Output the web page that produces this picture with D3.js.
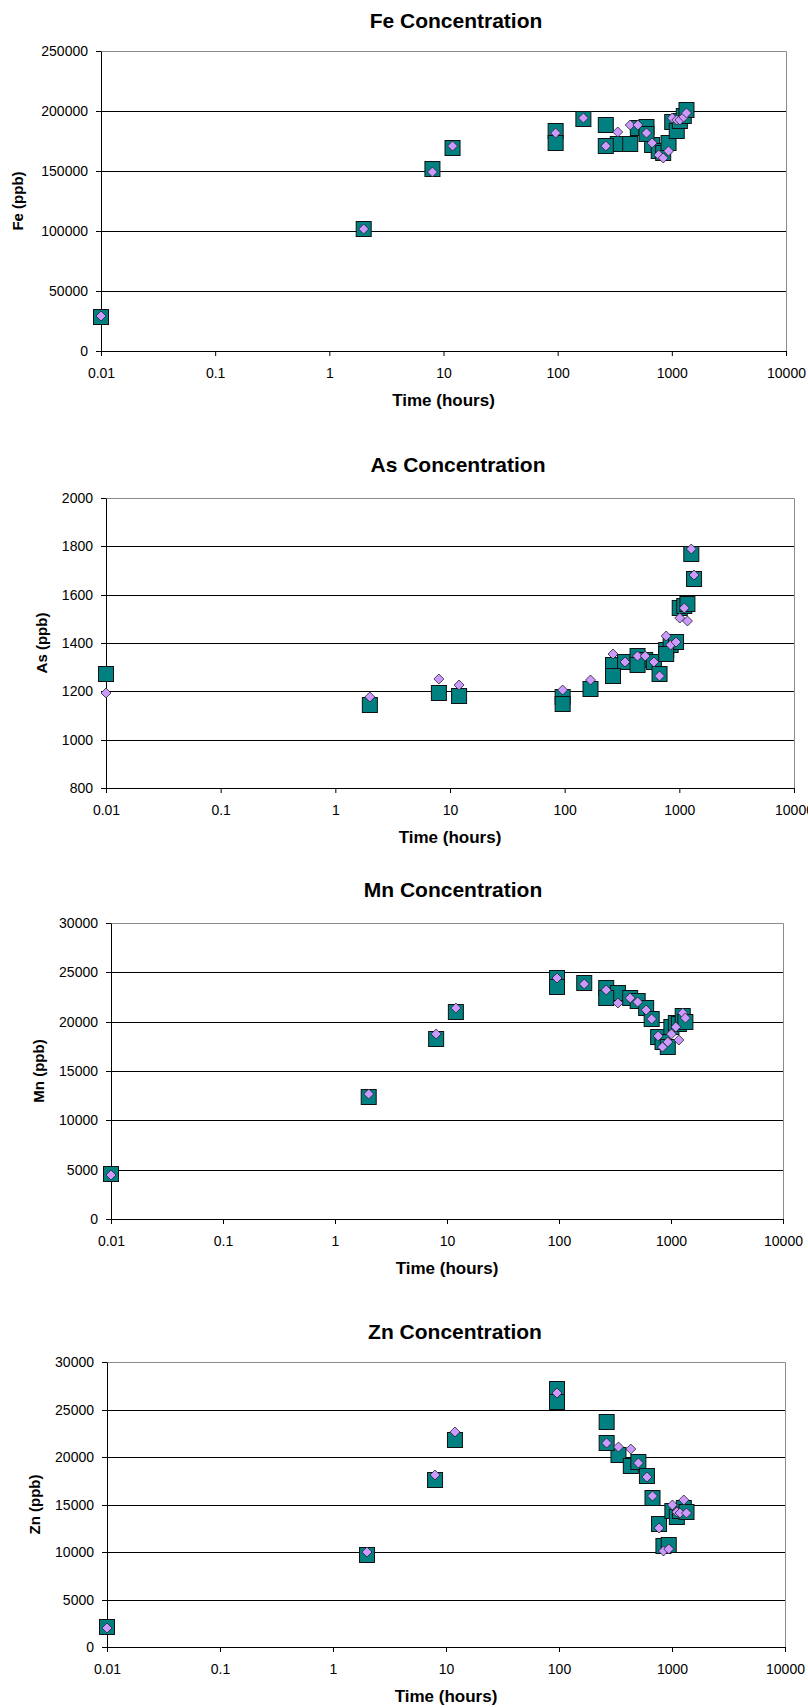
<!DOCTYPE html>
<html><head><meta charset="utf-8">
<script src="https://cdn.jsdelivr.net/npm/d3@7"></script>
<style>body{margin:0;background:#fff} svg{display:block}</style>
</head><body>
<svg id="c" width="808" height="1708"></svg>
<script>
// ---------- DATA ----------
const times = [0.01, 2, 8, 12, 96, 168, 264, 336, 432, 504, 600, 672, 768, 840, 936, 1008, 1104, 1176, 1272, 1344];
const xTicks = [0.01, 0.1, 1, 10, 100, 1000, 10000];
const xTickLabels = ["0.01", "0.1", "1", "10", "100", "1000", "10000"];

const feTicks = [0, 50000, 100000, 150000, 200000, 250000];
const feSquares1 = [28000, 101500, 151700, 168900, 183600, 193100, 188100, 172200, 172200, 185600, 187000, 171500, 167000, 165000, 173300, 190500, 183200, 192000, 196000, 200800];
const feSquares2 = [null, null, null, null, 173000, null, 170800, null, null, null, 181000, null, null, null, null, null, null, null, null, null];
const feDiamonds = [29500, 102000, 149400, 171100, 181400, 193900, 171100, 182800, 188300, 188300, 181900, 173600, 163300, 160600, 166900, 193900, 192500, 192500, 195000, 198600];

const asTicks = [800, 1000, 1200, 1400, 1600, 1800, 2000];
const asSquares1 = [1273, 1145, 1192, 1179, 1175, 1211, 1308, 1321, 1345, 1328, 1321, 1273, 1370, 1390, 1404, 1546, 1555, 1563, 1767, 1666];
const asSquares2 = [null, null, null, null, 1147, null, 1262, null, 1308, null, null, null, 1355, null, null, null, null, null, null, null];
const asDiamonds = [1193, 1175, 1249, 1225, 1204, 1246, 1356, 1321, 1345, 1345, 1321, 1262, 1428, 1390, 1404, 1503, 1546, 1491, 1791, 1683];

const mnTicks = [0, 5000, 10000, 15000, 20000, 25000, 30000];
const mnSquares1 = [4580, 12400, 18200, 21000, 24380, 23870, 23370, 22860, 22350, 22100, 21340, 20230, 18470, 17900, 17460, 19480, 19820, 19800, 20560, 20000];
const mnSquares2 = [null, null, null, null, 23530, null, 22350, null, null, null, null, null, null, null, null, null, null, null, null, null];
const mnDiamonds = [4500, 12700, 18700, 21400, 24380, 23770, 23190, 21850, 22350, 22010, 21170, 20230, 18570, 17460, 17900, 18710, 19480, 18140, 20900, 20330];

const znTicks = [0, 5000, 10000, 15000, 20000, 25000, 30000];
const znSquares1 = [2110, 9700, 17570, 21780, 27120, null, 23710, 20200, 19040, 19490, 17990, 15640, 13000, 10610, 10720, 14330, 13700, 14300, 14600, 14230];
const znSquares2 = [null, null, null, null, 25820, null, 21430, null, null, null, null, null, null, null, null, null, null, null, null, null];
const znDiamonds = [2040, 10010, 18090, 22590, 26770, null, 21430, 21010, 20800, 19390, 17850, 15880, 12540, 10120, 10300, 14930, 14230, 14060, 15460, 14060];

// ---------- LAYOUT ----------
const panels = [
  {title: "Fe Concentration", ylab: "Fe (ppb)", ticks: feTicks, sq: [feSquares1, feSquares2], dia: feDiamonds,
   left: 101, right: 786, top: 51, bottom: 351, titleX: 456, titleY: 28, ylabX: 23},
  {title: "As Concentration", ylab: "As (ppb)", ticks: asTicks, sq: [asSquares1, asSquares2], dia: asDiamonds,
   left: 106, right: 794, top: 498, bottom: 788, titleX: 458, titleY: 472, ylabX: 47},
  {title: "Mn Concentration", ylab: "Mn (ppb)", ticks: mnTicks, sq: [mnSquares1, mnSquares2], dia: mnDiamonds,
   left: 111, right: 783, top: 923, bottom: 1219, titleX: 453, titleY: 897, ylabX: 43.5},
  {title: "Zn Concentration", ylab: "Zn (ppb)", ticks: znTicks, sq: [znSquares1, znSquares2], dia: znDiamonds,
   left: 107, right: 785, top: 1362, bottom: 1647, titleX: 455, titleY: 1339, ylabX: 39.5}
];

const FONT = "'Liberation Sans', Arial, Helvetica, sans-serif";
const svg = d3.select("#c");
const SQ = 15, DR = 5;

panels.forEach(p => {
  const x = d3.scaleLog().domain([xTicks[0], xTicks[xTicks.length - 1]]).range([p.left, p.right]);
  const y = d3.scaleLinear().domain([p.ticks[0], p.ticks[p.ticks.length - 1]]).rangeRound([p.bottom, p.top]);
  const g = svg.append("g");
  const cx = (p.left + p.right) / 2;

  // gridlines
  g.selectAll("line.grid").data(p.ticks.slice(1, -1)).join("line")
    .attr("x1", p.left).attr("x2", p.right)
    .attr("y1", d => y(d) + 0.5).attr("y2", d => y(d) + 0.5)
    .attr("stroke", "#000").attr("stroke-width", 1);

  // plot border top + right
  g.append("path")
    .attr("d", `M${p.left},${y(p.ticks[p.ticks.length - 1]) + 0.5}H${Math.round(p.right) + 0.5}V${p.bottom}`)
    .attr("fill", "none").attr("stroke", "#8c8c8c").attr("stroke-width", 1);

  // y axis
  const ya = g.append("g").attr("transform", `translate(${Math.round(p.left)},0)`)
    .call(d3.axisLeft(y).tickValues(p.ticks).tickFormat(d3.format("d")).tickSize(5).tickSizeOuter(0).tickPadding(8));
  // x axis
  const xa = g.append("g").attr("transform", `translate(0,${p.bottom})`)
    .call(d3.axisBottom(x).tickValues(xTicks).tickFormat((d, i) => xTickLabels[i]).tickSize(5).tickSizeOuter(0).tickPadding(12.4));
  [ya, xa].forEach(a => {
    a.attr("font-family", FONT).attr("font-size", 14);
    a.select(".domain").attr("stroke", "#000");
    a.selectAll(".tick line").attr("stroke", "#000");
    a.selectAll(".tick text").attr("fill", "#000");
  });

  // squares
  p.sq.forEach(arr => {
    const pts = times.map((t, i) => ({t, v: arr[i]})).filter(d => d.v != null);
    g.selectAll(null).data(pts).join("rect")
      .attr("x", d => x(d.t) - SQ / 2).attr("y", d => y(d.v) - SQ / 2)
      .attr("width", SQ).attr("height", SQ)
      .attr("fill", "#008080").attr("stroke", "#111").attr("stroke-width", 1);
  });
  // diamonds
  const dp = times.map((t, i) => ({t, v: p.dia[i]})).filter(d => d.v != null);
  g.selectAll(null).data(dp).join("path")
    .attr("transform", d => `translate(${x(d.t)},${y(d.v)})`)
    .attr("d", `M0,${-DR}L${DR},0L0,${DR}L${-DR},0Z`)
    .attr("fill", "#cc99ff").attr("stroke", "#222").attr("stroke-width", 0.8);

  // titles
  g.append("text").attr("x", p.titleX).attr("y", p.titleY).attr("text-anchor", "middle")
    .attr("font-family", FONT).attr("font-weight", "bold").attr("font-size", 21).text(p.title);
  g.append("text").attr("x", cx).attr("y", p.bottom + 55).attr("text-anchor", "middle")
    .attr("font-family", FONT).attr("font-weight", "bold").attr("font-size", 17).text("Time (hours)");
  g.append("text").attr("transform", `translate(${p.ylabX},${(p.top + p.bottom) / 2}) rotate(-90)`)
    .attr("text-anchor", "middle")
    .attr("font-family", FONT).attr("font-weight", "bold").attr("font-size", 15).text(p.ylab);
});
</script>
</body></html>
